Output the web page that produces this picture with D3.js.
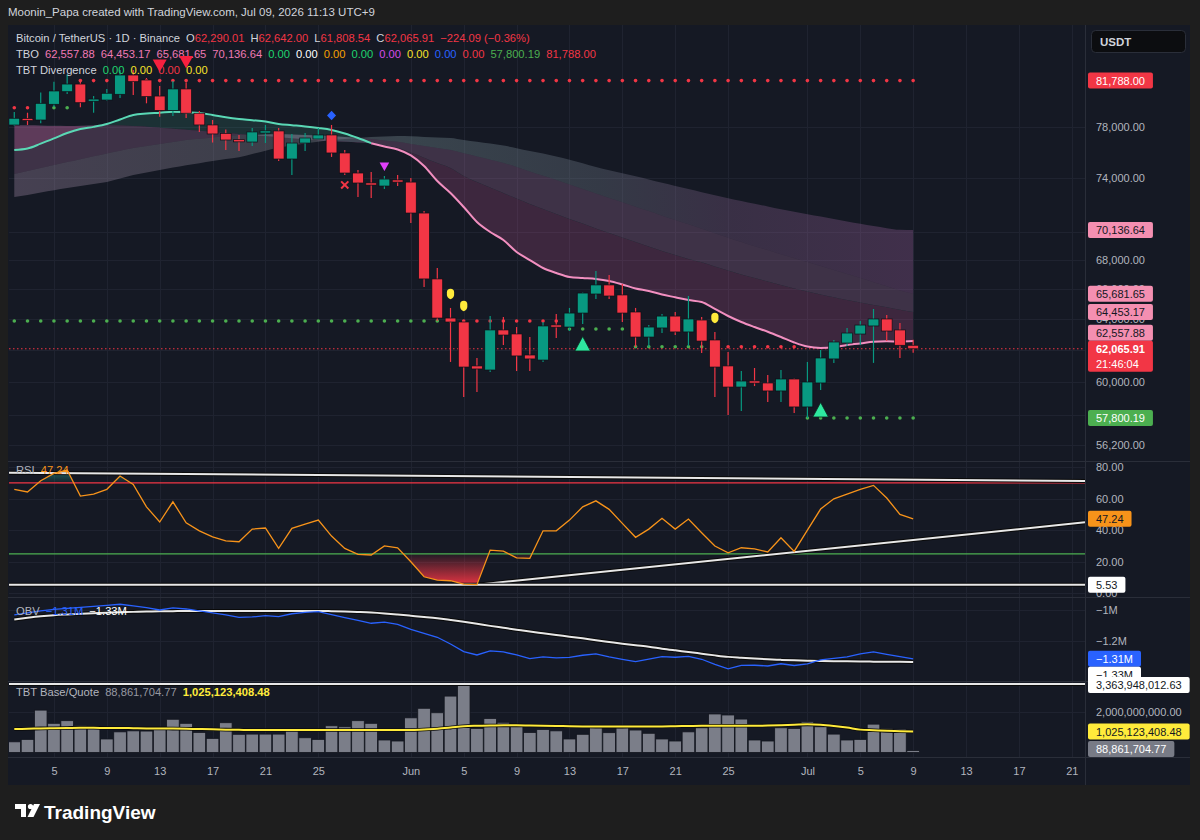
<!DOCTYPE html>
<html><head><meta charset="utf-8"><title>BTCUSDT 1D</title>
<script src="https://cdn.jsdelivr.net/npm/d3@7/dist/d3.min.js"></script>
<style>
html,body{margin:0;padding:0;background:#1e1e1e;overflow:hidden}
svg{display:block}
text{font-family:"Liberation Sans",Arial,Helvetica,sans-serif}
</style></head>
<body><svg id="chart" width="1200" height="840"></svg>
<script>
// ================= DATA =================
const opens  = [78135,78620,78540,79820,80860,81500,80090,80170,80645,82260,81840,80500,79310,81090,79090,78140,77460,76940,76780,77540,77660,75450,76700,77020,77340,75920,74370,73570,73380,73840,73680,71370,66690,64060,63800,60980,60725,63280,63020,61670,61350,63600,63470,64390,65665,66280,65600,64460,62820,63410,64190,63150,63930,62630,60980,59670,60040,59920,59430,60165,58460,59920,61420,62435,63015,63540,64000,63280,62290.01];
const highs  = [79190,79130,80800,81700,82300,81840,80500,81090,82690,82690,82010,81330,81760,81630,79270,78540,77780,77340,77900,78140,77900,77420,77500,77900,78140,76150,74600,74450,74140,74220,73990,71520,67440,64730,63930,61480,64190,64130,63470,62820,63800,64330,64730,65760,67240,66960,66350,64730,63600,64330,64460,65530,64130,63150,61860,60660,60850,60410,60725,60200,61230,61990,62630,63410,63865,64660,64260,63735,62642.00];
const lows   = [78060,78140,78280,79600,80670,79570,79130,80110,80340,80590,79900,78800,78860,78700,77580,76740,76150,76070,76470,76700,75300,74220,76070,76980,75610,74220,72560,72480,73160,73380,70640,66140,63870,61230,59060,59370,60600,62310,60660,60660,61230,62760,63210,63670,65330,65330,63800,62180,62180,63080,62950,62240,61800,59060,57980,58220,59730,58760,58760,58100,57800.19,59490,61170,62240,62305,61170,62565,61480,61808.54];
const closes = [78680,78540,79900,80920,81500,79950,80230,80730,82260,81700,80450,79310,81090,79090,78140,77420,76940,76820,77580,77620,75450,76700,77100,77340,75920,74370,73610,73500,73910,73680,71370,66690,64060,63800,60910,60790,63280,62950,61610,61420,63540,63470,64390,65730,66280,65530,64390,62820,63470,64190,63150,64000,62560,60910,59670,60040,59920,59430,60165,58460,59980,61480,62500,63080,63600,64000,63210,62290.00,62065.91];

// TBO lines
const tboFast   = [76152,76270,76650,77065,77500,77815,77985,78210,78580,78945,79065,79130,79210,79160,79110,78945,78760,78620,78525,78420,78220,78120,78020,77895,77736,77460,77100,76690,76430,76190,75730,74910,73760,72860,71815,70715,69990,69416,68570,68000,67445,67100,66825,66755,66690,66550,66310,66040,65870,65630,65445,65260,65125,64660,64195,63800,63470,63165,62825,62470,62205,62120,62165,62310,62405,62520,62550,62530,62557.88];
const tboMedium = [78137,78115,78100,78075,78060,78085,78115,78140,78100,78060,78000,77920,77840,77760,77670,77580,77500,77420,77330,77250,77160,77080,76990,76925,76860,76800,76745,76690,76510,76330,75960,75550,75140,74755,74140,73685,73270,72860,72445,72040,71665,71300,70935,70605,70240,69920,69595,69275,68955,68635,68355,68070,67840,67550,67270,66995,66755,66515,66275,66035,65835,65635,65445,65260,65085,64925,64775,64615,64453.17];
const tboSlow   = [74296,74525,74755,74985,75217,75434,75660,75880,76090,76310,76470,76620,76780,76940,77035,77140,77235,77340,77360,77385,77415,77375,77340,77295,77260,77180,77100,77020,76910,76800,76620,76470,76310,76152,75890,75645,75400,75140,74825,74480,74155,73837,73495,73165,72810,72480,72165,71840,71520,71175,70860,70545,70230,69900,69580,69275,68975,68700,68400,68130,67855,67585,67315,67030,66750,66470,66185,65895,65681.65];
const tboSlower = [72555,72707,72895,73060,73230,73385,73535,73685,73950,74220,74405,74600,74785,74970,75125,75295,75450,75590,75840,76090,76350,76505,76665,76800,76940,77025,77100,77180,77220,77260,77230,77180,77140,77100,76940,76800,76655,76500,76295,76075,75870,75645,75390,75125,74830,74585,74350,74115,73875,73620,73385,73155,72915,72685,72465,72260,72050,71860,71650,71460,71275,71110,70935,70750,70585,70415,70265,70150,70136.64];

// dotted support / resistance levels: [fromIndex, toIndex, value, colour key]
const upperLevelSegments = [[0,2,79540,"r"],[3,4,79540,"g"],[5,68,81788.00,"r"]];
const lowerLevelSegments = [[0,33,63865,"g"],[34,41,63865,"r"],[42,46,63340,"g"],[47,52,62200,"g"],[53,59,62200,"r"],[60,68,57800.19,"g"]];

// signal markers
const markers = [
  {i:11,type:"bearDiv"},{i:13,type:"bearDiv"},{i:24,type:"diamond"},{i:25,type:"cross"},
  {i:28,type:"magenta"},{i:33,type:"yellow"},{i:34,type:"yellow"},{i:53,type:"yellow"},
  {i:43,type:"bullTri"},{i:61,type:"bullTri"}
];

// RSI
const rsi = [65.9,64.2,71.3,76.0,78.1,61.6,62.9,65.9,74.3,69.0,54.8,45.2,58.0,44.7,39.6,35.8,33.3,32.7,40.7,41.4,28.5,41.2,43.9,46.4,36.3,28.5,24.7,24.3,30.1,28.9,20.0,10.5,8.4,8.0,5.9,5.53,27.4,26.8,22.5,22.2,39.6,39.6,46.4,54.8,58.6,53.2,44.3,35.5,40.7,47.5,40.7,47.1,38.4,30.0,25.7,28.9,28.2,26.2,35.2,26.6,40.1,53.4,59.9,62.9,65.9,68.4,60.4,50.0,47.24];
const rsiUpper = 70, rsiLower = 25;
const rsiTrendLines = [[[-0.4,76.4],[81,71.2]],[[35,5.53],[81,45.0]],[[-0.4,5.53],[81,5.53]]];
const rsiTicks = [80,60,40,20,0];

// OBV (millions)
const obv = [-1.0317,-1.019,-1.0063,-0.9968,-0.9905,-0.9841,-0.9778,-0.9714,-0.9638,-0.9746,-0.9854,-1.0,-0.9873,-0.9937,-1.0063,-1.019,-1.0317,-1.0476,-1.0444,-1.0362,-1.0425,-1.0241,-1.0159,-1.0108,-1.0298,-1.0489,-1.0667,-1.0844,-1.0775,-1.0921,-1.1225,-1.1479,-1.1733,-1.2159,-1.2648,-1.2857,-1.2603,-1.2667,-1.2857,-1.3092,-1.2984,-1.3048,-1.3016,-1.2876,-1.2794,-1.2984,-1.3143,-1.3283,-1.3124,-1.2965,-1.3003,-1.2952,-1.313,-1.346,-1.3733,-1.3524,-1.3511,-1.3556,-1.3416,-1.3524,-1.3429,-1.3162,-1.3073,-1.2984,-1.2794,-1.2667,-1.2813,-1.2965,-1.31];
const obvSmooth = [-1.0603,-1.0495,-1.04,-1.033,-1.0286,-1.0248,-1.021,-1.0171,-1.014,-1.0121,-1.0102,-1.0089,-1.0076,-1.0063,-1.0063,-1.0063,-1.0063,-1.0063,-1.0063,-1.0063,-1.0063,-1.0063,-1.0063,-1.0063,-1.0076,-1.0095,-1.0127,-1.0165,-1.0222,-1.0292,-1.0368,-1.0444,-1.0527,-1.0635,-1.0749,-1.0876,-1.101,-1.113,-1.1251,-1.1371,-1.1479,-1.1587,-1.1695,-1.1803,-1.1924,-1.2032,-1.214,-1.2241,-1.233,-1.2457,-1.2565,-1.2667,-1.2775,-1.2883,-1.2978,-1.3035,-1.3086,-1.313,-1.3168,-1.32,-1.3219,-1.3235,-1.325,-1.3262,-1.3272,-1.328,-1.3287,-1.3294,-1.33];
const obvTicks = [-1.0,-1.2];

// Base / Quote volume
const volumes = [0.52e9,0.64e9,2.08e9,1.43e9,1.56e9,1.31e9,1.30e9,0.66e9,1.01e9,1.06e9,1.05e9,1.15e9,1.63e9,1.43e9,0.98e9,0.69e9,1.46e9,0.89e9,0.90e9,0.90e9,0.90e9,1.13e9,0.72e9,0.64e9,1.31e9,1.26e9,1.56e9,1.43e9,0.61e9,0.56e9,1.70e9,2.17e9,1.95e9,2.77e9,3363948012.63,1.18e9,1.67e9,1.48e9,1.30e9,0.98e9,1.13e9,1.06e9,0.66e9,0.89e9,1.26e9,0.97e9,1.21e9,1.10e9,0.94e9,0.66e9,0.56e9,1.01e9,1.21e9,1.89e9,1.84e9,1.64e9,0.61e9,0.56e9,1.21e9,1.18e9,1.51e9,1.26e9,0.90e9,0.61e9,0.64e9,1.39e9,1.18e9,1.15e9,88861704.77];
const volumeMA = [1.15e9,1.16e9,1.18e9,1.19e9,1.20e9,1.21e9,1.21e9,1.20e9,1.20e9,1.19e9,1.18e9,1.18e9,1.17e9,1.16e9,1.15e9,1.14e9,1.12e9,1.11e9,1.10e9,1.10e9,1.10e9,1.10e9,1.10e9,1.10e9,1.10e9,1.10e9,1.10e9,1.10e9,1.10e9,1.10e9,1.10e9,1.13e9,1.16e9,1.22e9,1.29e9,1.31e9,1.32e9,1.33e9,1.33e9,1.32e9,1.31e9,1.30e9,1.29e9,1.28e9,1.27e9,1.27e9,1.27e9,1.28e9,1.28e9,1.28e9,1.29e9,1.30e9,1.31e9,1.31e9,1.31e9,1.31e9,1.31e9,1.32e9,1.34e9,1.36e9,1.38e9,1.36e9,1.30e9,1.22e9,1.12e9,1.09e9,1.06e9,1.04e9,1025123408.48];
const volumeTicks = [2e9];

// axes
const priceTicks = [78000,74000,70000,68000,66000,64000,62000,60000,58000,56200];
const tickIndex  = [3,7,11,15,19,23,30,34,38,42,46,50,54,60,64,68,72,76,80];
const tickLabels = ["5","9","13","17","21","25","Jun","5","9","13","17","21","25","Jul","5","9","13","17","21"];

// ================= DRAW =================
const RED="#f23645", GREEN="#089981", PINK="#f48fb1", GRID="#1f2330", TXT="#b2b5be";
const svg = d3.select("#chart");
const defs = svg.append("defs");
const PL=9, PR=1085;
const N = closes.length, idx = d3.range(N);
const fmt2 = d3.format(",.2f");

const x  = d3.scaleLinear().domain([-0.4,81]).range([PL,PR]);
const yP = d3.scaleLog().domain([55354,86605]).range([460,25]);
const yR = d3.scaleLinear().domain([-2.3,83.2]).range([597,462]);
const yO = d3.scaleLinear().domain([-1.451,-0.924]).range([681,598]);
const yV = d3.scaleLinear().domain([-0.2266e9,3.414e9]).range([757,683]);

svg.append("rect").attr("width",1200).attr("height",840).attr("fill","#1e1e1e");
svg.append("rect").attr("x",8).attr("y",25).attr("width",1182).attr("height",760).attr("fill","#151924");

function clip(id,y0,y1){
  defs.append("clipPath").attr("id",id).append("rect").attr("x",PL).attr("y",y0).attr("width",PR-PL).attr("height",y1-y0);
  return "url(#"+id+")";
}
const clipMain=clip("cm",25,460), clipR=clip("cr",462,597), clipO=clip("co",598,681), clipV=clip("cv",683,757);

// grid
const grid = svg.append("g").attr("stroke",GRID).attr("stroke-width",1);
tickIndex.forEach(t=>grid.append("line").attr("x1",Math.round(x(t))+0.5).attr("x2",Math.round(x(t))+0.5).attr("y1",25).attr("y2",757));
priceTicks.forEach(p=>grid.append("line").attr("x1",PL).attr("x2",PR).attr("y1",Math.round(yP(p))+0.5).attr("y2",Math.round(yP(p))+0.5));
rsiTicks.forEach(v=>grid.append("line").attr("x1",PL).attr("x2",PR).attr("y1",Math.round(yR(v))+0.5).attr("y2",Math.round(yR(v))+0.5));
obvTicks.forEach(v=>grid.append("line").attr("x1",PL).attr("x2",PR).attr("y1",Math.round(yO(v))+0.5).attr("y2",Math.round(yO(v))+0.5));
volumeTicks.forEach(v=>grid.append("line").attr("x1",PL).attr("x2",PR).attr("y1",Math.round(yV(v))+0.5).attr("y2",Math.round(yV(v))+0.5));

// ---------- main pane ----------
const main = svg.append("g").attr("clip-path",clipMain);
const curve = d3.curveMonotoneX;

// cloud gradient
const lg = defs.append("linearGradient").attr("id","g3").attr("gradientUnits","userSpaceOnUse").attr("x1",x(0)).attr("x2",x(N-1)).attr("y1",0).attr("y2",0);
[[0,"rgb(165,140,170)",0.34],[0.3,"rgb(150,150,160)",0.30],[0.45,"rgb(125,150,155)",0.34],[0.65,"rgb(125,135,150)",0.30],[0.8,"rgb(150,105,155)",0.28],[1,"rgb(165,100,165)",0.30]]
 .forEach(s=>lg.append("stop").attr("offset",s[0]).attr("stop-color",s[1]).attr("stop-opacity",s[2]));

const areaBetween=(a,b)=>d3.area().curve(curve).x(i=>x(i)).y0(i=>yP(a[i])).y1(i=>yP(b[i]));
main.append("path").attr("d",areaBetween(tboSlow,tboSlower)(idx)).attr("fill","url(#g3)");
main.append("path").attr("d",areaBetween(tboMedium,tboSlow)(idx)).attr("fill","rgb(180,125,175)").attr("fill-opacity",0.26);
// fast vs medium cloud coloured by side
defs.append("clipPath").attr("id","abv").append("path").attr("d",d3.area().curve(curve).x(i=>x(i)).y0(25).y1(i=>yP(tboMedium[i]))(idx));
defs.append("clipPath").attr("id","blw").append("path").attr("d",d3.area().curve(curve).x(i=>x(i)).y0(460).y1(i=>yP(tboMedium[i]))(idx));
const fm = areaBetween(tboMedium,tboFast)(idx);
main.append("g").attr("clip-path","url(#abv)").append("path").attr("d",fm).attr("fill","rgb(72,200,165)").attr("fill-opacity",0.14);
main.append("g").attr("clip-path","url(#blw)").append("path").attr("d",fm).attr("fill","rgb(225,95,170)").attr("fill-opacity",0.2);

// dotted levels
function levelDots(segs){
  segs.forEach(s=>{
    for(let i=s[0];i<=s[1];i++){
      main.append("circle").attr("cx",x(i)).attr("cy",yP(s[2])).attr("r",1.8).attr("fill",s[3]==="r"?"#f23645":"#4caf50");
    }
  });
}
levelDots(upperLevelSegments); levelDots(lowerLevelSegments);

// last price dotted line
main.append("line").attr("x1",PL).attr("x2",PR).attr("y1",yP(closes[N-1])).attr("y2",yP(closes[N-1]))
  .attr("stroke",RED).attr("stroke-width",1).attr("stroke-dasharray","1.5,2.5");

// fast line (teal while above medium, pink after)
const lineF = d3.line().curve(curve).x(i=>x(i)).y(i=>yP(tboFast[i]));
main.append("path").attr("d",lineF(idx.filter(i=>i<=27))).attr("fill","none").attr("stroke","#5ad8b5").attr("stroke-width",2);
main.append("path").attr("d",lineF(idx.filter(i=>i>=27))).attr("fill","none").attr("stroke","#f28fc0").attr("stroke-width",2);

// candles
const cg = main.append("g");
idx.forEach(i=>{
  const up = closes[i]>=opens[i], col = up?GREEN:RED, cx=x(i);
  cg.append("line").attr("x1",cx).attr("x2",cx).attr("y1",yP(highs[i])).attr("y2",yP(lows[i])).attr("stroke",col).attr("stroke-width",1.2);
  const yt=yP(Math.max(opens[i],closes[i])), yb=yP(Math.min(opens[i],closes[i]));
  const h=Math.max(2.2,yb-yt);
  cg.append("rect").attr("x",cx-5.4).attr("y",(yt+yb)/2-h/2).attr("width",10.8).attr("height",h)
    .attr("fill",col).attr("stroke","#0d0f16").attr("stroke-width",0.7);
});

// ---------- legend ----------
function legendRow(y,parts){
  const t=svg.append("text").attr("x",16).attr("y",y).attr("font-size",11.2);
  parts.forEach(p=>t.append("tspan").attr("fill",p[1]).attr("dx",p[2]||0).text(p[0]));
}
const chg = closes[N-1]-closes[N-2], pct = chg/closes[N-2]*100;
const mfmt = v=>fmt2(v).replace("-","\u2212");
legendRow(42,[["Bitcoin / TetherUS \u00b7 1D \u00b7 Binance","#d1d4dc"],["O","#d1d4dc",6],[fmt2(opens[N-1]),RED],["H","#d1d4dc",6],[fmt2(highs[N-1]),RED],
  ["L","#d1d4dc",6],[fmt2(lows[N-1]),RED],["C","#d1d4dc",6],[fmt2(closes[N-1]),RED],[mfmt(chg)+" ("+mfmt(pct)+"%)",RED,6]]);
legendRow(58,[["TBO","#d1d4dc"],[fmt2(tboFast[N-1]),"#f07ab4",6],[fmt2(tboMedium[N-1]),"#f07ab4",6],[fmt2(tboSlow[N-1]),"#f07ab4",6],[fmt2(tboSlower[N-1]),"#f07ab4",6],
  ["0.00","#1fd36f",6],["0.00","#ffffff",6],["0.00","#f5a000",6],["0.00","#1fd36f",6],["0.00","#d64ce8",6],["0.00","#f5e12a",6],["0.00","#2962ff",6],["0.00","#f23645",6],
  [fmt2(lowerLevelSegments[5][2]),"#4caf50",6],[fmt2(upperLevelSegments[2][2]),"#f23645",6]]);
legendRow(74,[["TBT Divergence","#d1d4dc"],["0.00","#1fd36f",6],["0.00","#f5e12a",6],["0.00","#f23645",6],["0.00","#f5e12a",6]]);

// ---------- markers ----------
const mg = svg.append("g");
markers.forEach(m=>{
  const cx=x(m.i);
  if(m.type==="bearDiv"){
    const b=yP(highs[m.i])-14;
    mg.append("path").attr("d",`M${cx-7},${b-12.5}L${cx+7},${b-12.5}L${cx},${b}Z`).attr("fill","#f7203f");
  } else if(m.type==="diamond"){
    const c=yP(highs[m.i])-9.5;
    mg.append("path").attr("d",`M${cx},${c-4.8}L${cx+4.5},${c}L${cx},${c+4.8}L${cx-4.5},${c}Z`).attr("fill","#2962ff");
  } else if(m.type==="cross"){
    const c=yP(lows[m.i])+10;
    mg.append("path").attr("d",`M${cx-3.6},${c-3.6}L${cx+3.6},${c+3.6}M${cx+3.6},${c-3.6}L${cx-3.6},${c+3.6}`).attr("stroke",RED).attr("stroke-width",2);
  } else if(m.type==="magenta"){
    const b=yP(highs[m.i])-5;
    mg.append("path").attr("d",`M${cx-4.8},${b-8.5}L${cx+4.8},${b-8.5}L${cx},${b}Z`).attr("fill","#e040fb");
  } else if(m.type==="yellow"){
    const c=yP(highs[m.i])-14;
    mg.append("path").attr("d",`M${cx-3.6},${c-1.5}Q${cx-3.6},${c-5.2} ${cx},${c-5.2}Q${cx+3.6},${c-5.2} ${cx+3.6},${c-1.5}L${cx+3.6},${c+1}Q${cx+3.4},${c+3.8} ${cx},${c+5.2}Q${cx-3.4},${c+3.8} ${cx-3.6},${c+1}Z`).attr("fill","#ffeb3b");
  } else if(m.type==="bullTri"){
    const t=yP(lows[m.i])+12.5;
    mg.append("path").attr("d",`M${cx},${t}L${cx+7.8},${t+14.5}L${cx-7.8},${t+14.5}Z`).attr("fill","#2ee89f").attr("stroke","#0b2a20").attr("stroke-width",0.8);
  }
});

// ---------- RSI pane ----------
const rg = svg.append("g").attr("clip-path",clipR);
const rsiLine = d3.line().x(i=>x(i)).y(i=>yR(rsi[i]));
const gr = defs.append("linearGradient").attr("id","gr").attr("gradientUnits","userSpaceOnUse").attr("x1",0).attr("x2",0).attr("y1",yR(rsiLower)).attr("y2",yR(5));
gr.append("stop").attr("offset",0).attr("stop-color","#f23645").attr("stop-opacity",0.05);
gr.append("stop").attr("offset",1).attr("stop-color","#f23645").attr("stop-opacity",0.95);
const gg = defs.append("linearGradient").attr("id","gg").attr("gradientUnits","userSpaceOnUse").attr("x1",0).attr("x2",0).attr("y1",yR(rsiUpper)).attr("y2",yR(80));
gg.append("stop").attr("offset",0).attr("stop-color","#26a69a").attr("stop-opacity",0.05);
gg.append("stop").attr("offset",1).attr("stop-color","#26a69a").attr("stop-opacity",0.7);
defs.append("clipPath").attr("id","rlow").append("rect").attr("x",PL).attr("y",yR(rsiLower)).attr("width",PR-PL).attr("height",597-yR(rsiLower));
defs.append("clipPath").attr("id","rhigh").append("rect").attr("x",PL).attr("y",462).attr("width",PR-PL).attr("height",yR(rsiUpper)-462);
rg.append("g").attr("clip-path","url(#rlow)").append("path").attr("d",d3.area().x(i=>x(i)).y0(yR(rsiLower)).y1(i=>yR(rsi[i]))(idx)).attr("fill","url(#gr)");
rg.append("g").attr("clip-path","url(#rhigh)").append("path").attr("d",d3.area().x(i=>x(i)).y0(yR(rsiUpper)).y1(i=>yR(rsi[i]))(idx)).attr("fill","url(#gg)");
rg.append("line").attr("x1",PL).attr("x2",PR).attr("y1",yR(rsiUpper)).attr("y2",yR(rsiUpper)).attr("stroke",RED).attr("stroke-width",1.2);
rg.append("line").attr("x1",PL).attr("x2",PR).attr("y1",yR(rsiLower)).attr("y2",yR(rsiLower)).attr("stroke","#4caf50").attr("stroke-width",1.2);
const tl = d3.line().x(d=>x(d[0])).y(d=>yR(d[1]));
rsiTrendLines.forEach(l=>{
  rg.append("path").attr("d",tl(l)).attr("stroke","#0a0a0a").attr("stroke-width",4).attr("fill","none");
  rg.append("path").attr("d",tl(l)).attr("stroke","#e8e8e8").attr("stroke-width",2).attr("fill","none");
});
rg.append("path").attr("d",rsiLine(idx)).attr("fill","none").attr("stroke","#f7931a").attr("stroke-width",1.3);
const rl=svg.append("text").attr("x",16).attr("y",474).attr("font-size",11.2);
rl.append("tspan").attr("fill",TXT).text("RSI");
rl.append("tspan").attr("dx",6).attr("fill","#f7931a").text(d3.format(".2f")(rsi[N-1]));

// ---------- OBV pane ----------
const og = svg.append("g").attr("clip-path",clipO);
const obvL = d3.line().curve(curve).x(i=>x(i)).y(i=>yO(obvSmooth[i]));
og.append("path").attr("d",obvL(idx)).attr("fill","none").attr("stroke","#0a0a0a").attr("stroke-width",4);
og.append("path").attr("d",obvL(idx)).attr("fill","none").attr("stroke","#e8e8e8").attr("stroke-width",2);
og.append("path").attr("d",d3.line().x(i=>x(i)).y(i=>yO(obv[i]))(idx)).attr("fill","none").attr("stroke","#2962ff").attr("stroke-width",1.3);
const mf = v=>(d3.format(".2f")(v)+"M").replace("-","\u2212");
const ol=svg.append("text").attr("x",16).attr("y",615).attr("font-size",11.2);
ol.append("tspan").attr("fill",TXT).text("OBV");
ol.append("tspan").attr("dx",6).attr("fill","#2962ff").text(mf(obv[N-1]));
ol.append("tspan").attr("dx",6).attr("fill","#ffffff").text(mf(obvSmooth[N-1]));

// ---------- Volume pane ----------
const vg = svg.append("g").attr("clip-path",clipV);
idx.forEach(i=>{
  vg.append("rect").attr("x",x(i)-6.3).attr("y",yV(volumes[i])).attr("width",12.6).attr("height",yV(0)-yV(volumes[i]))
    .attr("fill","#7b7e89").attr("stroke","#13161f").attr("stroke-width",0.8);
});
const vmax = d3.max(volumes);
vg.append("line").attr("x1",PL).attr("x2",PR).attr("y1",yV(vmax)).attr("y2",yV(vmax)).attr("stroke","#0a0a0a").attr("stroke-width",4);
vg.append("line").attr("x1",PL).attr("x2",PR).attr("y1",yV(vmax)).attr("y2",yV(vmax)).attr("stroke","#e8e8e8").attr("stroke-width",2);
const vma = d3.line().curve(curve).x(i=>x(i)).y(i=>yV(volumeMA[i]));
vg.append("path").attr("d",vma(idx)).attr("fill","none").attr("stroke","#0a0a0a").attr("stroke-width",3.6);
vg.append("path").attr("d",vma(idx)).attr("fill","none").attr("stroke","#ffeb3b").attr("stroke-width",2);
const vl=svg.append("text").attr("x",16).attr("y",696).attr("font-size",11.2);
vl.append("tspan").attr("fill",TXT).text("TBT Base/Quote");
vl.append("tspan").attr("dx",6).attr("fill","#9598a1").text(fmt2(volumes[N-1]));
vl.append("tspan").attr("dx",6).attr("fill","#ffeb3b").attr("font-weight","bold").text(fmt2(volumeMA[N-1]));

// ---------- separators ----------
const sep = svg.append("g").attr("stroke","#2a2e39").attr("stroke-width",1);
[461.5,597.5,681.5,757.5].forEach(y=>sep.append("line").attr("x1",8).attr("x2",1190).attr("y1",y).attr("y2",y));
sep.append("line").attr("x1",PR+0.5).attr("x2",PR+0.5).attr("y1",25).attr("y2",785);

// ---------- axes ----------
function styleAxis(g){
  g.select(".domain").remove();
  g.attr("font-family","Liberation Sans, Arial, sans-serif").attr("font-size",11);
  g.selectAll("text").attr("fill",TXT);
}
svg.append("g").attr("transform",`translate(${PR},0)`).call(d3.axisRight(yP).tickValues(priceTicks).tickFormat(fmt2).tickSize(0).tickPadding(11)).call(styleAxis);
svg.append("g").attr("transform",`translate(${PR},0)`).call(d3.axisRight(yR).tickValues(rsiTicks).tickFormat(d3.format(".2f")).tickSize(0).tickPadding(11)).call(styleAxis);
svg.append("g").attr("transform",`translate(${PR},0)`).call(d3.axisRight(yO).tickValues(obvTicks).tickFormat(v=>(d3.format("~g")(v)+"M").replace("-","\u2212")).tickSize(0).tickPadding(11)).call(styleAxis);
svg.append("g").attr("transform",`translate(${PR},0)`).call(d3.axisRight(yV).tickValues(volumeTicks).tickFormat(fmt2).tickSize(0).tickPadding(11)).call(styleAxis);
svg.append("g").attr("transform","translate(0,765)").call(d3.axisBottom(x).tickValues(tickIndex).tickFormat((d,k)=>tickLabels[k]).tickSize(0).tickPadding(2)).call(styleAxis);

// ---------- scale labels ----------
function boxLabel(yc,text,bg,fg,second,bold){
  const g=svg.append("g");
  const t=g.append("text").attr("x",1096).attr("y",yc+4).attr("fill",fg).attr("font-size",11).text(text);
  if(bold) t.attr("font-weight","bold");
  const w=t.node().getComputedTextLength();
  let h=16;
  if(second){ g.append("text").attr("x",1096).attr("y",yc+19).attr("fill",fg).attr("font-size",11).text(second); h=31; }
  g.insert("rect","text").attr("x",1088).attr("y",yc-8).attr("width",w+16).attr("height",h).attr("rx",2).attr("fill",bg);
}
function resolve(list, fixedY, fixedH){
  const above=list.filter(d=>d.y<fixedY).sort((a,b)=>b.y-a.y);
  let lim=fixedY-8-8;
  above.forEach(d=>{ if(d.y>lim) d.y=lim; lim=d.y-16; });
  const below=list.filter(d=>d.y>=fixedY).sort((a,b)=>a.y-b.y);
  let lo=fixedY-8+fixedH+8;
  below.forEach(d=>{ if(d.y<lo) d.y=lo; lo=d.y+16; });
}
const pLabels=[
  {v:upperLevelSegments[2][2],bg:RED,fg:"#ffffff"},
  {v:tboSlower[N-1],bg:PINK,fg:"#131722"},
  {v:tboSlow[N-1],bg:PINK,fg:"#131722"},
  {v:tboMedium[N-1],bg:PINK,fg:"#131722"},
  {v:tboFast[N-1],bg:PINK,fg:"#131722"},
  {v:lowerLevelSegments[5][2],bg:"#4caf50",fg:"#ffffff"}
];
pLabels.forEach(d=>d.y=yP(d.v));
resolve(pLabels,yP(closes[N-1]),31);
pLabels.forEach(d=>boxLabel(d.y,fmt2(d.v),d.bg,d.fg));
boxLabel(yP(closes[N-1]),fmt2(closes[N-1]),RED,"#ffffff","21:46:04",true);

boxLabel(yR(rsi[N-1]),d3.format(".2f")(rsi[N-1]),"#f7931a","#131722");
boxLabel(yR(5.53),"5.53","#ffffff","#131722");

const oLab=[{v:obvSmooth[N-1]}]; oLab.forEach(d=>d.y=yO(d.v));
resolve(oLab,yO(obv[N-1]),16);
boxLabel(yO(obv[N-1]),mf(obv[N-1]),"#2962ff","#ffffff");
boxLabel(oLab[0].y,mf(obvSmooth[N-1]),"#ffffff","#131722");

boxLabel(yV(vmax)+1,fmt2(vmax),"#ffffff","#131722");
boxLabel(yV(volumeMA[N-1]),fmt2(volumeMA[N-1]),"#ffeb3b","#131722");
boxLabel(yV(volumes[N-1])-1.5,fmt2(volumes[N-1]),"#787b86","#ffffff");

// USDT button
svg.append("rect").attr("x",1091.5).attr("y",30.5).attr("width",94).attr("height",22).attr("rx",4).attr("fill","#0c0d10").attr("stroke","#2a2e39");
svg.append("text").attr("x",1100).attr("y",45.5).attr("fill","#d1d4dc").attr("font-size",11.5).attr("font-weight","bold").text("USDT");

// header & logo
svg.append("text").attr("x",8).attr("y",16).attr("fill","#d1d4dc").attr("font-size",11.5).text("Moonin_Papa created with TradingView.com, Jul 09, 2026 11:13 UTC+9");
const logo=svg.append("g").attr("fill","#ffffff");
logo.append("path").attr("d","M15,804h11v13h-5v-8h-6z");
logo.append("circle").attr("cx",30.5).attr("cy",806.5).attr("r",2.6);
logo.append("path").attr("d","M34,804h6l-6.5,13h-6z");
svg.append("text").attr("x",44).attr("y",819).attr("fill","#ffffff").attr("font-size",19).attr("font-weight","bold").text("TradingView");
</script>
</body></html>
